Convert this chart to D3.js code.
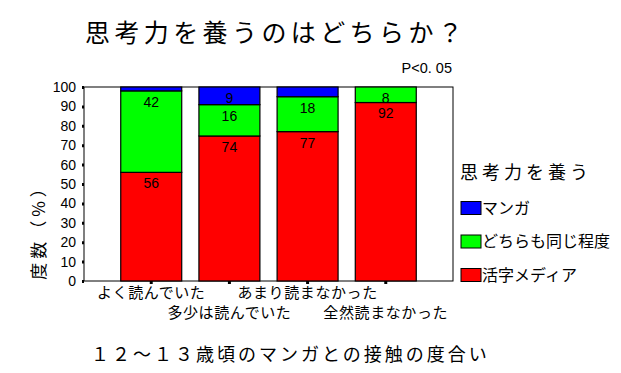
<!DOCTYPE html>
<html>
<head>
<meta charset="utf-8">
<script src="https://cdn.jsdelivr.net/npm/d3@7"></script>
<style>
  body { margin: 0; background: #fff; }
  text { font-family: "Noto Sans CJK JP", sans-serif; fill: #000; }
  .num { font-family: "Liberation Sans", Arial, sans-serif; }
</style>
</head>
<body>
<div id="chart"></div>
<script>
// 12~13歳頃のマンガとの接触の度合い
const categories = ["よく読んでいた", "多少は読んでいた", "あまり読まなかった", "全然読まなかった"];
const katsuji = [56, 74, 77, 92];   // 活字メディア
const dochira = [42, 16, 18, 8];    // どちらも同じ程度
const manga = [2, 9, 5, 0];         // マンガ
const seriesNames = ["活字メディア", "どちらも同じ程度", "マンガ"];
const seriesColors = ["#ff0000", "#00ff00", "#0000ff"];
const yTicks = [0, 10, 20, 30, 40, 50, 60, 70, 80, 90, 100];

const width = 621, height = 373;
const plot = { left: 84, right: 453, top: 87, bottom: 281 };

const table = categories.map((c, i) => ({
  cat: c,
  "活字メディア": katsuji[i],
  "どちらも同じ程度": dochira[i],
  "マンガ": manga[i]
}));

const stacked = d3.stack().keys(seriesNames).offset(d3.stackOffsetExpand)(table);

const svg = d3
  .select("#chart")
  .append("svg")
  .attr("width", width)
  .attr("height", height);

const x = d3.scaleBand()
  .domain(categories)
  .range([plot.left, plot.right])
  .paddingInner(0.22)
  .paddingOuter(0.47);

const y = d3.scaleLinear().domain([0, 100]).range([plot.bottom, plot.top]);

// plot frame
svg.append("rect")
  .attr("x", plot.left)
  .attr("y", plot.top)
  .attr("width", plot.right - plot.left)
  .attr("height", plot.bottom - plot.top)
  .attr("fill", "#fff")
  .attr("stroke", "#000");

// bars
const layer = svg.append("g")
  .selectAll("g")
  .data(stacked)
  .enter()
  .append("g")
  .attr("fill", (d, i) => seriesColors[i]);

layer.selectAll("rect")
  .data(d => d)
  .enter()
  .append("rect")
  .attr("x", d => x(d.data.cat))
  .attr("width", x.bandwidth())
  .attr("y", d => y(d[1] * 100))
  .attr("height", d => y(d[0] * 100) - y(d[1] * 100))
  .attr("stroke", "#000")
  .attr("stroke-width", 1.2);

// value labels
stacked.forEach(s => {
  svg.append("g")
    .selectAll("text")
    .data(s)
    .enter()
    .filter(d => d.data[s.key] >= 8)
    .append("text")
    .attr("class", "num")
    .attr("x", d => x(d.data.cat) + x.bandwidth() / 2)
    .attr("y", d => y(d[1] * 100) + 11)
    .attr("dy", "0.35em")
    .attr("text-anchor", "middle")
    .attr("font-size", 14)
    .text(d => d.data[s.key]);
});

// y axis
const yAxis = svg.append("g")
  .attr("transform", "translate(" + plot.left + ",0)")
  .call(d3.axisLeft(y).tickValues(yTicks).tickSizeInner(2).tickSizeOuter(0).tickPadding(6));
yAxis.select(".domain").remove();
yAxis.selectAll("line").attr("stroke-width", 3);
yAxis.selectAll("text")
  .attr("class", "num")
  .attr("font-size", 14)
  .attr("font-family", "Liberation Sans, Arial, sans-serif");

// x axis ticks
const xAxis = svg.append("g")
  .attr("transform", "translate(0," + plot.bottom + ")")
  .call(d3.axisBottom(x).tickSizeInner(3).tickSizeOuter(0).tickFormat(""));
xAxis.select(".domain").remove();
xAxis.selectAll("line").attr("stroke-width", 3);

// staggered category labels
svg.append("g")
  .selectAll("text")
  .data(categories)
  .enter()
  .append("text")
  .attr("x", d => x(d) + x.bandwidth() / 2)
  .attr("y", (d, i) => (i % 2 === 0 ? 293 : 313))
  .attr("dy", "0.35em")
  .attr("text-anchor", "middle")
  .attr("font-size", 15)
  .attr("letter-spacing", 0.6)
  .text(d => d);

// titles
svg.append("text")
  .attr("x", 85)
  .attr("y", 33)
  .attr("dy", "0.35em")
  .attr("font-size", 25)
  .attr("letter-spacing", 4.4)
  .text("思考力を養うのはどちらか？");

svg.append("text")
  .attr("class", "num")
  .attr("x", 452)
  .attr("y", 68)
  .attr("dy", "0.35em")
  .attr("text-anchor", "end")
  .attr("font-size", 14.5)
  .text("P<0. 05");

svg.append("text")
  .attr("x", 91)
  .attr("y", 355)
  .attr("dy", "0.35em")
  .attr("font-size", 18)
  .attr("letter-spacing", 3)
  .text("１２～１３歳頃のマンガとの接触の度合い");

svg.append("text")
  .attr("transform", "translate(39,228) rotate(-90)")
  .attr("dy", "0.35em")
  .attr("text-anchor", "middle")
  .attr("font-size", 17)
  .attr("letter-spacing", 4)
  .text("度数（%）");

// legend
const legend = svg.append("g");
legend.append("text")
  .attr("x", 460)
  .attr("y", 173)
  .attr("dy", "0.35em")
  .attr("font-size", 18)
  .attr("letter-spacing", 4)
  .text("思考力を養う");

const legendItems = seriesNames.slice().reverse();
const legendColors = seriesColors.slice().reverse();
const ly = d3.scalePoint().domain(legendItems).range([208, 275]);

legend.selectAll("rect")
  .data(legendItems)
  .enter()
  .append("rect")
  .attr("x", 461)
  .attr("y", d => ly(d) - 6.5)
  .attr("width", 20)
  .attr("height", 13)
  .attr("fill", (d, i) => legendColors[i])
  .attr("stroke", "#000");

legend.selectAll("text.item")
  .data(legendItems)
  .enter()
  .append("text")
  .attr("class", "item")
  .attr("x", 482)
  .attr("y", d => ly(d))
  .attr("dy", "0.35em")
  .attr("font-size", 16)
  .text(d => d);
</script>
</body>
</html>
